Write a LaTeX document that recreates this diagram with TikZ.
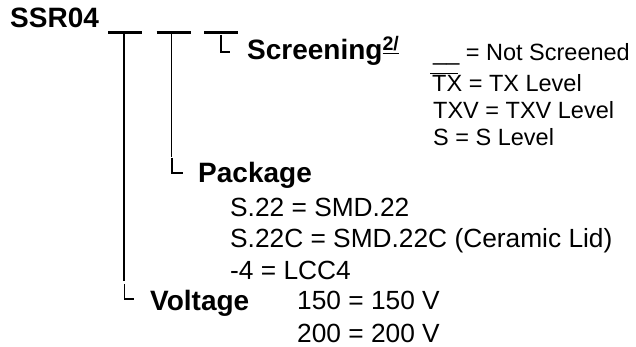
\documentclass[tikz,border=0pt]{standalone}
\usepackage{fontspec}
\setmainfont{Liberation Sans}
\usetikzlibrary{positioning}
\tikzset{
  head/.style={anchor=base west,inner sep=0pt,font=\fontsize{28}{30}\selectfont\bfseries},
  opt/.style={anchor=base west,inner sep=0pt,font=\fontsize{26.3}{28}\selectfont},
  optsm/.style={anchor=base west,inner sep=0pt,font=\fontsize{23.5}{26}\selectfont},
  blank/.style={line width=3pt},
  lead/.style={line width=1.3pt}
}

\begin{document}
\begin{tikzpicture}[x=1pt,y=-1pt,line cap=butt]
\useasboundingbox (0,0) rectangle (636,347);
\node[head] (ssr) at (10,28) {SSR04};
% the three blanks of the part number
\coordinate (b1) at (125,32.5);
\coordinate (b2) at (173.5,32.5);
\coordinate (b3) at (221,32.5);
\foreach \b in {b1,b2,b3}
\draw[blank] ([xshift=-17pt]\b) -- ([xshift=17pt]\b);
% headings
\node[head] (scr) at (247,60) {Screening\textsuperscript{\underline{2/}}};
\node[head] (pkg) at (198,183) {Package};
\node[head] (volt) at (150,310) {Voltage};
% leads from the blanks
\coordinate (v1) at (124,281);
\coordinate (v2) at (171.5,157);
\draw[lead] (b1 -| v1) -- (v1);
\draw[lead] (b2 -| v2) -- (v2);
\draw[lead] (124.5,284) |- (134,299);
\draw[lead] (172,158) |- (183,173);
\draw[lead] (221,35) |- (230,52);
% screening options
\node[optsm] (s0) at (433,61) {\_\_ = Not Screened};
\node[optsm] (s1) at (432,91.5) {TX = TX Level};
\node[optsm] (s2) at (433,118.5) {TXV = TXV Level};
\node[optsm] (s3) at (433,145.5) {S = S Level};
\draw[line width=0.8pt] (430,73.5) -- (458,73.5);
% package options
\node[opt] (p0) at (230,216) {S.22 = SMD.22};
\node[opt] (p1) at (230,247) {S.22C = SMD.22C (Ceramic Lid)};
\node[opt] (p2) at (230,279) {-4 = LCC4};
% voltage options
\node[opt] (u0) at (297,309.5) {150 = 150 V};
\node[opt] (u1) at (297,342) {200 = 200 V};
\end{tikzpicture}
\end{document}
